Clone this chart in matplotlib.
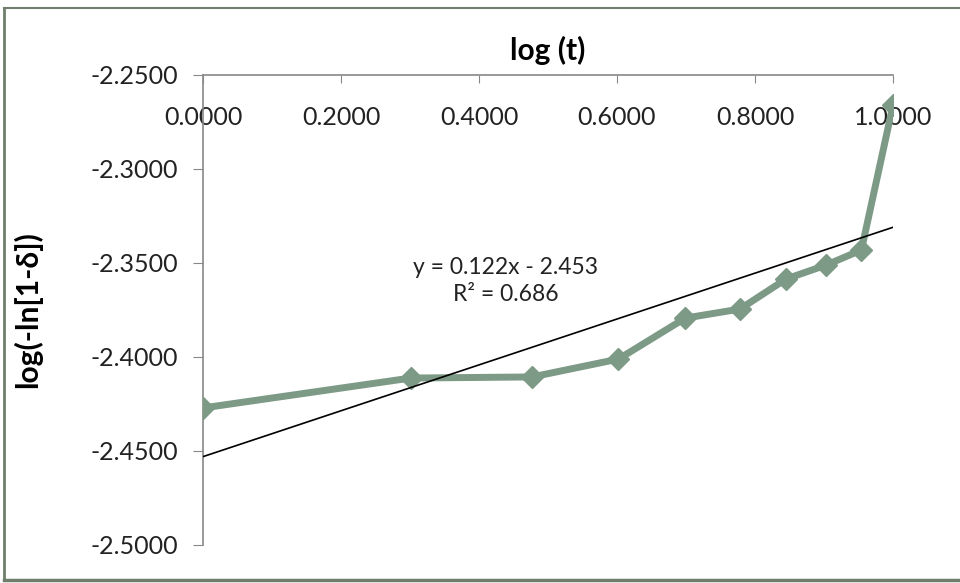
import numpy as np
import matplotlib.pyplot as plt
from matplotlib.lines import Line2D

# log(t) for t = 1..10 and the measured log(-ln[1-delta]) values
log_t = [0.0000, 0.3010, 0.4771, 0.6021, 0.6990, 0.7782, 0.8451, 0.9031, 0.9542, 1.0000]
log_ln = [-2.4271, -2.4112, -2.4106, -2.4011, -2.3793, -2.3745, -2.3585, -2.3511, -2.3431, -2.2660]

# trendline as given on the chart
slope = 0.122
intercept = -2.453
r2 = 0.686

x_ticks = [0.0, 0.2, 0.4, 0.6, 0.8, 1.0]
y_ticks = [-2.25, -2.30, -2.35, -2.40, -2.45, -2.50]

plt.rcParams['font.family'] = ['Lato', 'DejaVu Sans']

fig = plt.figure(figsize=(9.6, 5.83), dpi=100)
ax = fig.add_axes([203 / 960, 1 - 545 / 583, 690 / 960, 470 / 583])

line_col = '#7d9a86'
ax.plot(log_t, log_ln, color=line_col, lw=5, marker='D', ms=11,
        markerfacecolor=line_col, markeredgecolor=line_col, zorder=3)

tx = np.array([0.0, 1.0])
ax.plot(tx, slope * tx + intercept, color='black', lw=1.2, zorder=4)

ax.text(0.439, -2.3596, f"y = {slope}x - {abs(intercept)}\nR\u00b2 = {r2}",
        ha='center', va='center', fontsize=16.5, color='#222222', linespacing=1.4)

ax.set_xlim(0, 1.0)
ax.set_ylim(-2.5, -2.25)
ax.set_xticks(x_ticks)
ax.set_yticks(y_ticks)
ax.set_xticklabels([f"{v:.4f}" for v in x_ticks])
ax.set_yticklabels([f"{v:.4f}" for v in y_ticks])

ax.xaxis.set_ticks_position('top')
ax.xaxis.set_label_position('top')
ax.tick_params(axis='x', direction='in', length=6, pad=-39, labelsize=18,
               color='#888888', labelcolor='#222222')
ax.tick_params(axis='y', direction='out', length=7, pad=11, labelsize=18,
               color='#888888', labelcolor='#222222')

for s in ['right', 'bottom']:
    ax.spines[s].set_visible(False)
for s in ['left', 'top']:
    ax.spines[s].set_color('#888888')
    ax.spines[s].set_linewidth(1.2)

ax.set_xlabel('log (t)', fontsize=21.5, fontweight='bold', labelpad=11)
fig.text(28 / 960, 1 - 310 / 583, 'log(-ln[1-\u03b4])', rotation=90,
         ha='center', va='center', fontsize=21.5, fontweight='bold')

# outer chart border
border = '#6f7f6c'
fig.add_artist(Line2D([4 / 960, 4 / 960], [1 - 580 / 583, 1 - 8 / 583],
                      color=border, lw=2, transform=fig.transFigure))
fig.add_artist(Line2D([4 / 960, 1], [1 - 8 / 583, 1 - 8 / 583],
                      color=border, lw=1.5, transform=fig.transFigure))
fig.add_artist(Line2D([4 / 960, 1], [1 - 580 / 583, 1 - 580 / 583],
                      color=border, lw=2.5, transform=fig.transFigure))

fig.savefig('out.png', dpi=100)
